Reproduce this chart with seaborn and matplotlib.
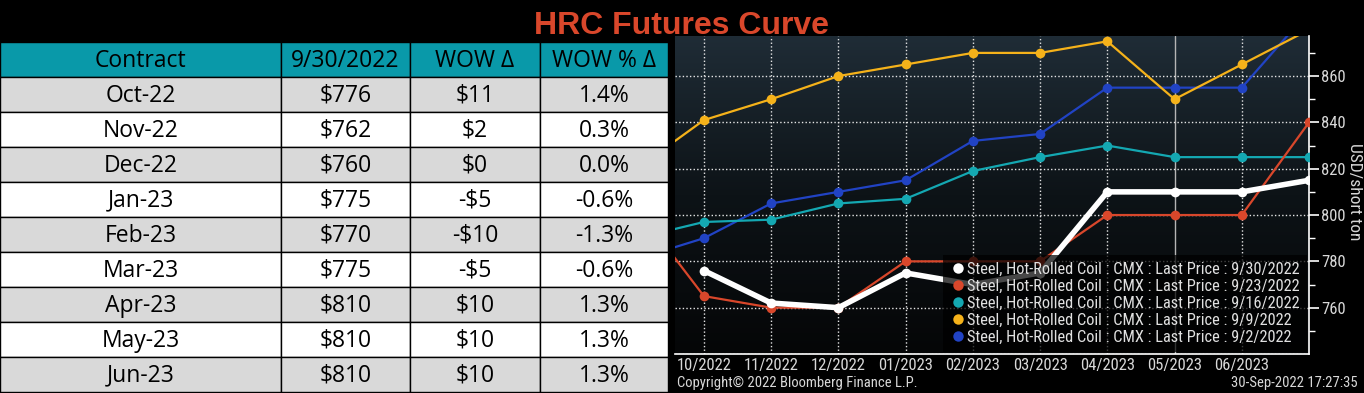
import pandas as pd
import seaborn as sns
import matplotlib.pyplot as plt
from matplotlib import font_manager
from matplotlib.colors import LinearSegmentedColormap
from matplotlib.lines import Line2D
from matplotlib.patches import Rectangle
import numpy as np

# table data
contracts = ['Oct-22', 'Nov-22', 'Dec-22', 'Jan-23', 'Feb-23', 'Mar-23', 'Apr-23', 'May-23', 'Jun-23']
price_0930 = ['$776', '$762', '$760', '$775', '$770', '$775', '$810', '$810', '$810']
wow_delta = ['$11', '$2', '$0', '-$5', '-$10', '-$5', '$10', '$10', '$10']
wow_pct = ['1.4%', '0.3%', '0.0%', '-0.6%', '-1.3%', '-0.6%', '1.3%', '1.3%', '1.3%']
headers = ['Contract', '9/30/2022', 'WOW Δ', 'WOW % Δ']

# curve data (position -1 = 09/2022, 9 = 07/2023, both partly cut off)
month_labels = ['10/2022', '11/2022', '12/2022', '01/2023', '02/2023',
                '03/2023', '04/2023', '05/2023', '06/2023']
pos_all = [-1, 0, 1, 2, 3, 4, 5, 6, 7, 8, 9]
curve_0930 = [776, 762, 760, 775, 770, 775, 810, 810, 810, 815]
curve_0923 = [803, 765, 760, 760, 780, 780, 780, 800, 800, 800, 840]
curve_0916 = [790, 797, 798, 805, 807, 819, 825, 830, 825, 825, 825]
curve_0909 = [820, 841, 850, 860, 865, 870, 870, 875, 850, 865, 880]
curve_0902 = [781, 790, 805, 810, 815, 832, 835, 855, 855, 855, 888]

sns.set_theme(style='dark')
names = {f.name for f in font_manager.fontManager.ttflist}
cond = next((n for n in ['Liberation Sans Narrow', 'Roboto Condensed'] if n in names), 'DejaVu Sans')
plt.rcParams['font.family'] = [cond, 'DejaVu Sans']

fig = plt.figure(figsize=(13.64, 3.93), dpi=100, facecolor='black')

# ---- title
fig.text(682 / 1364, 1 - 34 / 393, 'HRC Futures Curve', color='#d9472b', fontsize=23,
         fontweight='bold', family=['Liberation Sans', 'DejaVu Sans'], ha='center', va='baseline')

# ---- table
ax_t = fig.add_axes([0, 1 / 393, 668 / 1364, 350 / 393])
ax_t.set_xlim(0, 668)
ax_t.set_ylim(10, 0)
ax_t.axis('off')
col_edges = [0, 281, 410, 540, 668]
cols = [contracts, price_0930, wow_delta, wow_pct]
for r in range(10):
    if r == 0:
        fc = '#0999a9'
    elif r % 2 == 1:
        fc = '#d9d9d9'
    else:
        fc = 'white'
    for c in range(4):
        ax_t.add_patch(Rectangle((col_edges[c], r), col_edges[c + 1] - col_edges[c], 1,
                                 facecolor=fc, edgecolor='black', linewidth=1))
        txt = headers[c] if r == 0 else cols[c][r - 1]
        ax_t.text((col_edges[c] + col_edges[c + 1]) / 2, r + 0.53, txt, ha='center', va='center',
                  fontsize=16.5, color='black', family=['Open Sans', 'DejaVu Sans'])

# ---- curve chart
ax = fig.add_axes([675 / 1364, 39 / 393, 634 / 1364, 318 / 393])
x0, x1, y0, y1 = -0.43, 9.0, 740, 877.3
grad = LinearSegmentedColormap.from_list('bg', ['#050607', '#0d1317', '#1f2c36'])
ax.imshow(np.linspace(0, 1, 200).reshape(-1, 1), cmap=grad, origin='lower', aspect='auto',
          extent=[x0, x1, y0, y1], zorder=0)

series = [
    ('9/2/2022', pos_all, curve_0902, '#2143c4', 1.6),
    ('9/9/2022', pos_all, curve_0909, '#f5b21a', 1.6),
    ('9/16/2022', pos_all, curve_0916, '#14a8b2', 1.6),
    ('9/23/2022', pos_all, curve_0923, '#d9472b', 1.6),
    ('9/30/2022', pos_all[1:], curve_0930, 'white', 4),
]
for i, (name, xs, ys, col, lw) in enumerate(series):
    df = pd.DataFrame({'pos': xs, 'price': ys})
    sns.lineplot(data=df, x='pos', y='price', ax=ax, color=col, linewidth=lw, marker='o',
                 markersize=7, markeredgewidth=0, zorder=3 + i)

grid_kw = dict(color='#e6e6e6', linewidth=1, linestyle=(0, (1, 1.6)), zorder=1)
for p in range(9):
    if p == 7:
        ax.axvline(p, color='#b5b5b5', linewidth=1, zorder=1)
    else:
        ax.axvline(p, **grid_kw)
for v in range(740, 861, 20):
    ax.axhline(v, **grid_kw)

ax.set_xlim(x0, x1)
ax.set_ylim(y0, y1)
ax.set_xticks(range(9))
ax.set_xticklabels(month_labels)
ax.set_yticks(range(760, 861, 20))
ax.set_yticks(range(750, 876, 10), minor=True)
ax.yaxis.tick_right()
ax.yaxis.set_label_position('right')
ax.set_xlabel('')
ax.set_ylabel('USD/short ton', rotation=270, color='#d8d8d8', fontsize=12.5, va='center', ha='center')
ax.yaxis.set_label_coords(1.0725, 0.51)
ax.tick_params(axis='x', length=0, colors='#d8d8d8', labelsize=12, pad=3)
ax.tick_params(axis='y', which='major', length=7, width=1.2, color='white',
               labelcolor='#d8d8d8', labelsize=12, pad=2, right=True, left=False)
ax.tick_params(axis='y', which='minor', length=4, width=1, color='white', right=True, left=False)
ax.grid(False)
for s in ['top', 'left']:
    ax.spines[s].set_visible(False)
for s in ['bottom', 'right']:
    ax.spines[s].set_color('white')
    ax.spines[s].set_linewidth(1.2)

handles = [Line2D([], [], marker='o', linestyle='none', color=c, markersize=7.5, markeredgewidth=0)
           for c in ['white', '#d9472b', '#14a8b2', '#f5b21a', '#2143c4']]
labels = ['Steel, Hot-Rolled Coil : CMX : Last Price : ' + d
          for d in ['9/30/2022', '9/23/2022', '9/16/2022', '9/9/2022', '9/2/2022']]
leg = ax.legend(handles, labels, loc='lower right', borderaxespad=0.1, fontsize=11.8,
                labelcolor='#e0e0e0', frameon=True, fancybox=False, handletextpad=0.15,
                handlelength=0.9, labelspacing=0.12, borderpad=0.45)
leg.get_frame().set_facecolor('black')
leg.get_frame().set_alpha(0.72)
leg.get_frame().set_edgecolor('none')
leg.set_zorder(20)

fig.text(677 / 1364, 1 - 383 / 393, 'Copyright© 2022 Bloomberg Finance L.P.', color='#d8d8d8',
         fontsize=10.5, va='center', ha='left')
fig.text(1358 / 1364, 1 - 383 / 393, '30-Sep-2022 17:27:35', color='#d8d8d8',
         fontsize=10.5, va='center', ha='right')

fig.savefig('out.png', dpi=100, facecolor='black')
